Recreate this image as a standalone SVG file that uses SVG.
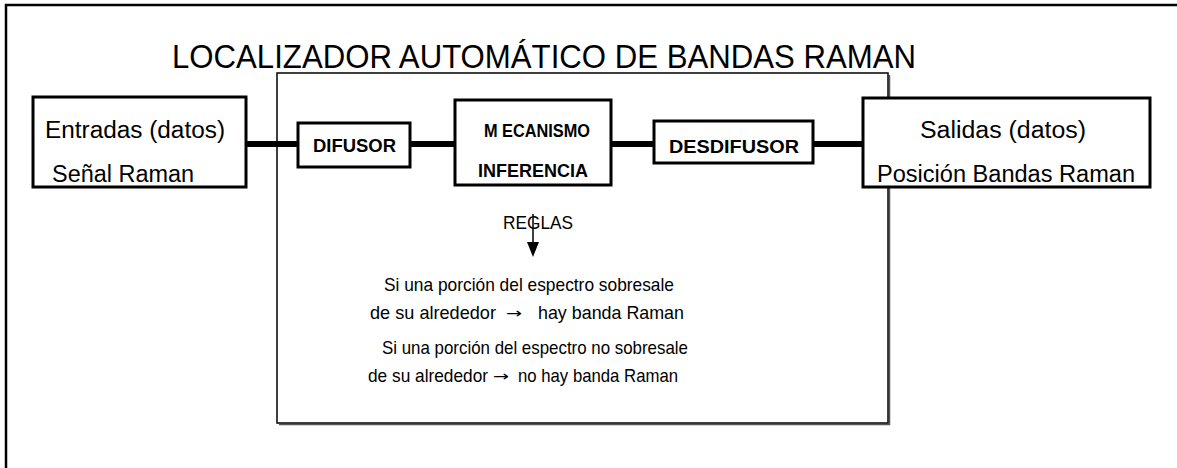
<svg xmlns="http://www.w3.org/2000/svg" width="1177" height="468" viewBox="0 0 1177 468">
<style>
text{font-family:"Liberation Sans",Arial,sans-serif;fill:#000}
.box{fill:#fff;stroke:#000;stroke-width:3}
.thin{fill:#fff;stroke:#000;stroke-width:1.5}
.lbl{font-size:23px}
.b{font-size:18px;font-weight:bold}
.rule{font-size:19px}
.arr{font-family:"DejaVu Sans",sans-serif;font-size:14px}
.conn{stroke:#000;stroke-width:6}
</style>
<rect width="1177" height="468" fill="#fff"/>
<path d="M6,468 V5 H1177" fill="none" stroke="#000" stroke-width="2.5"/>
<text x="172" y="68" font-size="33" textLength="744" lengthAdjust="spacingAndGlyphs">LOCALIZADOR AUTOMÁTICO DE BANDAS RAMAN</text>
<g id="motor">
<path d="M279,424.5 H889.5 V75" fill="none" stroke="#555" stroke-width="1.5"/>
<rect class="thin" x="277" y="73" width="611" height="350"/>
</g>
<g id="connectors">
<line class="conn" x1="246" y1="144" x2="298" y2="144"/>
<line class="conn" x1="410" y1="144" x2="455" y2="144"/>
<line class="conn" x1="611" y1="144" x2="654" y2="144"/>
<line class="conn" x1="813" y1="144" x2="863" y2="144"/>
<line x1="533" y1="214" x2="533" y2="244" stroke="#000" stroke-width="1.5"/>
<path d="M527,242 L539,242 L533,257 Z" fill="#000"/>
</g>
<g id="entradas">
<rect class="box" x="33" y="97" width="213" height="90"/>
<text class="lbl" x="45" y="138" textLength="180" lengthAdjust="spacingAndGlyphs">Entradas  (datos)</text>
<text class="lbl" x="52" y="182" textLength="142" lengthAdjust="spacingAndGlyphs">Señal  Raman</text>
</g>
<g id="difusor">
<rect class="box" x="298" y="123" width="112" height="44"/>
<text class="b" x="313" y="152" textLength="83" lengthAdjust="spacingAndGlyphs">DIFUSOR</text>
</g>
<g id="mecanismo">
<rect class="box" x="455" y="100" width="156" height="85"/>
<text class="b" x="484" y="137" textLength="106" lengthAdjust="spacingAndGlyphs">M ECANISMO</text>
<text class="b" x="478" y="177" textLength="110" lengthAdjust="spacingAndGlyphs">INFERENCIA</text>
</g>
<g id="desdifusor">
<rect class="box" x="654" y="121" width="159" height="42"/>
<text class="b" x="669" y="153" textLength="130" lengthAdjust="spacingAndGlyphs">DESDIFUSOR</text>
</g>
<g id="salidas">
<rect class="box" x="863" y="98" width="287" height="89"/>
<text class="lbl" x="920" y="138" textLength="166" lengthAdjust="spacingAndGlyphs">Salidas  (datos)</text>
<text class="lbl" x="877" y="182" textLength="258" lengthAdjust="spacingAndGlyphs">Posición Bandas   Raman</text>
</g>
<g id="reglas">
<text x="503" y="229" font-size="18" textLength="70" lengthAdjust="spacingAndGlyphs">REGLAS</text>
<text class="rule" x="384" y="291" textLength="290" lengthAdjust="spacingAndGlyphs">Si una porción del espectro sobresale</text>
<text class="rule" x="370" y="319" textLength="126" lengthAdjust="spacingAndGlyphs">de su alrededor</text>
<text class="arr" x="506" y="318" textLength="16" lengthAdjust="spacingAndGlyphs">→</text>
<text class="rule" x="538" y="319" textLength="146" lengthAdjust="spacingAndGlyphs">hay banda Raman</text>
<text class="rule" x="382" y="354" textLength="306" lengthAdjust="spacingAndGlyphs">Si una porción del espectro no sobresale</text>
<text class="rule" x="368" y="382" font-size="17.5" textLength="120" lengthAdjust="spacingAndGlyphs">de su alrededor</text>
<text class="arr" x="493" y="381" textLength="16" lengthAdjust="spacingAndGlyphs">→</text>
<text class="rule" x="518" y="382" textLength="160" lengthAdjust="spacingAndGlyphs">no hay banda Raman</text>
</g>
</svg>
